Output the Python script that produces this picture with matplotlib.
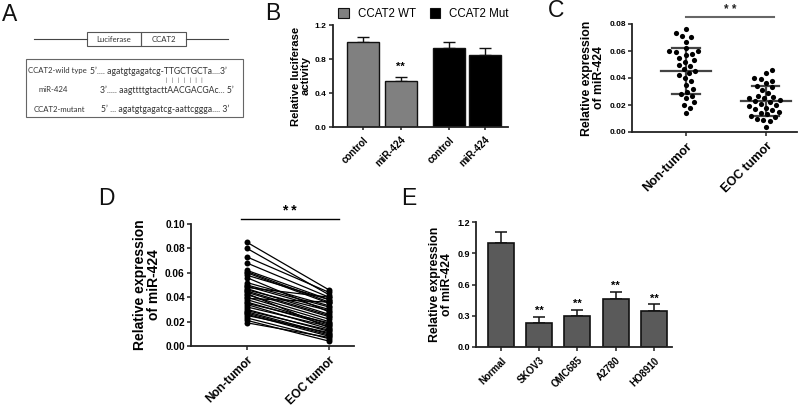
import numpy as np
import matplotlib
matplotlib.use("Agg")
import matplotlib.pyplot as plt
from matplotlib.patches import Rectangle

plt.rcParams['font.family'] = ['Liberation Sans', 'DejaVu Sans']

# ---------------- data ----------------
# Panel B
b_labels = ["control", "miR-424", "control", "miR-424"]
b_values = [1.00, 0.54, 0.93, 0.85]
b_errors = [0.06, 0.05, 0.07, 0.08]
b_groups = ["CCAT2 WT", "CCAT2 WT", "CCAT2 Mut", "CCAT2 Mut"]
b_yticks = [0.0, 0.4, 0.8, 1.2]

# Panel C
c_categories = ["Non-tumor", "EOC tumor"]
c_nontumor = [0.076, 0.073, 0.071, 0.070, 0.067, 0.062, 0.060, 0.060, 0.059, 0.058,
              0.057, 0.055, 0.053, 0.052, 0.050, 0.049, 0.047, 0.045, 0.044, 0.042,
              0.040, 0.038, 0.035, 0.032, 0.030, 0.028, 0.027, 0.025, 0.022, 0.020,
              0.018, 0.014]
c_eoc = [0.046, 0.044, 0.040, 0.039, 0.038, 0.036, 0.034, 0.033, 0.031, 0.029,
         0.027, 0.026, 0.025, 0.025, 0.024, 0.023, 0.022, 0.021, 0.020, 0.019,
         0.018, 0.017, 0.016, 0.015, 0.014, 0.013, 0.012, 0.011, 0.010, 0.009,
         0.008, 0.004]
c_means = [0.045, 0.023]
c_sds = [0.017, 0.011]
c_yticks = [0.00, 0.02, 0.04, 0.06, 0.08]

# Panel D (paired)
d_categories = ["Non-tumor", "EOC tumor"]
d_nontumor = [0.085, 0.080, 0.073, 0.068, 0.062, 0.061, 0.060, 0.058, 0.056, 0.052,
              0.050, 0.049, 0.048, 0.047, 0.046, 0.045, 0.044, 0.043, 0.042, 0.040,
              0.039, 0.038, 0.036, 0.035, 0.034, 0.032, 0.030, 0.029, 0.028, 0.027,
              0.026, 0.025, 0.023, 0.021, 0.019]
d_eoc = [0.046, 0.042, 0.044, 0.040, 0.038, 0.036, 0.035, 0.038, 0.028, 0.033,
         0.032, 0.030, 0.040, 0.026, 0.029, 0.025, 0.024, 0.015, 0.022, 0.020,
         0.036, 0.018, 0.017, 0.019, 0.014, 0.016, 0.012, 0.013, 0.010, 0.009,
         0.008, 0.011, 0.006, 0.004, 0.007]
d_yticks = [0.00, 0.02, 0.04, 0.06, 0.08, 0.10]

# Panel E
e_labels = ["Normal", "SKOV3", "OMC685", "A2780", "HO8910"]
e_values = [1.00, 0.23, 0.30, 0.46, 0.35]
e_errors = [0.10, 0.06, 0.06, 0.07, 0.06]
e_sig = ["", "**", "**", "**", "**"]
e_yticks = [0.0, 0.3, 0.6, 0.9, 1.2]

W, H = 800, 407
fig = plt.figure(figsize=(W / 100, H / 100), dpi=100)

def px_axes(l, t, r, b):
    return fig.add_axes([l / W, 1 - b / H, (r - l) / W, (b - t) / H])

def style(ax, fs_y, fs_x, xticklen=3):
    for s in ["top", "right"]:
        ax.spines[s].set_visible(False)
    for s in ["left", "bottom"]:
        ax.spines[s].set_linewidth(1.3)
        ax.spines[s].set_color("#222222")
    ax.tick_params(axis="y", direction="out", length=3, width=1.1,
                   color="#222222", labelsize=fs_y, pad=1.5)
    ax.tick_params(axis="x", direction="out", length=xticklen, width=1.1,
                   color="#222222", labelsize=fs_x, pad=3)
    for lab in ax.get_yticklabels() + ax.get_xticklabels():
        lab.set_fontweight("bold")

def beeswarm(vals, d_px, px_per_x, px_per_y):
    order = np.argsort(vals)
    xs = np.zeros(len(vals))
    placed = []
    for i in order:
        y = vals[i] * px_per_y
        cands = [0.0]
        for (px, py) in placed:
            dy = abs(py - y)
            if dy < d_px:
                dx = np.sqrt(d_px ** 2 - dy ** 2)
                cands += [px + dx, px - dx]
        cands.sort(key=abs)
        for c in cands:
            ok = all((c - px) ** 2 + (y - py) ** 2 >= d_px ** 2 - 1e-6 for (px, py) in placed)
            if ok:
                break
        placed.append((c, y))
        xs[i] = c / px_per_x
    return xs

def rot_labels(ax, labels):
    ax.set_xticklabels(labels, rotation=45, ha="right", rotation_mode="anchor")

# ---------------- overlay (panel A, letters) ----------------
ov = fig.add_axes([0, 0, 1, 1])
ov.set_xlim(0, W)
ov.set_ylim(H, 0)
ov.axis("off")

for letter, x, y in [("A", 2, 3), ("B", 265, 2), ("C", 548, -1), ("D", 98, 187), ("E", 401, 187)]:
    ov.text(x, y, letter, fontsize=16.5, va="top", ha="left", color="#111111")

fa = ["Lato", "DejaVu Sans"]
tc = "#333333"
fsl = 5.6
fss = 6.2
ov.plot([34, 87], [39, 39], color="#444444", lw=0.8)
ov.plot([186, 228], [39, 39], color="#444444", lw=0.8)
ov.add_patch(Rectangle((87, 32), 54, 14, fill=False, ec="#555555", lw=0.8))
ov.add_patch(Rectangle((141, 32), 45, 14, fill=False, ec="#555555", lw=0.8))
ov.text(114, 39.5, "Luciferase", fontsize=fsl, ha="center", va="center", family=fa, color=tc)
ov.text(163.5, 39.5, "CCAT2", fontsize=fsl, ha="center", va="center", family=fa, color=tc)
ov.add_patch(Rectangle((26, 59), 217, 58, fill=False, ec="#666666", lw=0.8))
ov.text(28, 71, "CCAT2-wild type", fontsize=fsl, ha="left", va="center", family=fa, color=tc)
ov.text(89.5, 71, "5\u2019.... agatgtgagatcg-TTGCTGCTa....3\u2019", fontsize=fss, ha="left",
        va="center", family=fa, color=tc)
ov.text(184.5, 80, "|   |   |   |   |   |   |", fontsize=4.3, ha="center", va="center",
        family=fa, color=tc)
ov.text(53, 90, "miR-424", fontsize=fsl, ha="center", va="center", family=fa, color=tc)
ov.text(100, 90, "3\u2019..... aagttttgtacttAACGACGAc... 5\u2019", fontsize=fss, ha="left",
        va="center", family=fa, color=tc)
ov.text(34, 109, "CCAT2-mutant", fontsize=fsl, ha="left", va="center", family=fa, color=tc)
ov.text(101, 109, "5\u2019 ... agatgtgagatcg-aattcggga.... 3\u2019", fontsize=fss, ha="left",
        va="center", family=fa, color=tc)

# ---------------- Panel B ----------------
axb = px_axes(333, 25, 508, 127)
bx = [0, 1, 2.28, 3.24]
bcolors = {"CCAT2 WT": "#808080", "CCAT2 Mut": "#000000"}
for x, v, e, g in zip(bx, b_values, b_errors, b_groups):
    axb.bar(x, v, width=0.84, color=bcolors[g], edgecolor="#111111", lw=1.0, zorder=2)
    axb.errorbar(x, v, yerr=[[0], [e]], fmt="none", ecolor="#111111", elinewidth=1.0,
                 capsize=4.5, capthick=1.0, zorder=1)
axb.text(bx[1], b_values[1] + b_errors[1] + 0.06, "**", ha="center", va="bottom",
         fontsize=8, fontweight="bold")
axb.set_xlim(-0.8, 3.85)
axb.set_ylim(0, 1.2)
axb.set_yticks(b_yticks)
axb.set_yticklabels([f"{t:.1f}" for t in b_yticks])
axb.set_xticks(bx)
rot_labels(axb, b_labels)
style(axb, 6, 7, xticklen=2.5)
axb.set_ylabel("Relative luciferase\nactivity", fontsize=8.1, fontweight="bold",
               linespacing=1.0, labelpad=3)
handles = [Rectangle((0, 0), 1, 1, fc=bcolors[k], ec="#111111", lw=0.8) for k in ["CCAT2 WT", "CCAT2 Mut"]]
axb.legend(handles, ["CCAT2 WT", "CCAT2 Mut"], ncol=2, loc="lower left",
           bbox_to_anchor=(0.03, 1.05), frameon=False, fontsize=8.3, handlelength=0.9,
           handleheight=0.9, handletextpad=0.8, columnspacing=1.2, borderaxespad=0,
           borderpad=0)

# ---------------- Panel C ----------------
axc = px_axes(632, 24, 797, 132)
c_pxx = 80.0
c_pxy = 108 / 0.08
for i, vals in enumerate([c_nontumor, c_eoc]):
    vals = np.array(vals)
    xs = beeswarm(vals, 6.6, c_pxx, c_pxy)
    axc.scatter(i + xs, vals, s=14, color="black", zorder=3, lw=0)
    m, s = c_means[i], c_sds[i]
    axc.plot([i - 0.31, i + 0.31], [m, m], color="#444444", lw=1.6, zorder=2)
    axc.plot([i, i], [m - s, m + s], color="#444444", lw=1.6, zorder=2)
    for yy in (m - s, m + s):
        axc.plot([i - 0.17, i + 0.17], [yy, yy], color="#444444", lw=1.6, zorder=2)
axc.plot([0, 1.1], [0.0852, 0.0852], color="#666666", lw=1.5, clip_on=False)
axc.text(0.55, 0.0862, "* *", ha="center", va="bottom", fontsize=8.5, fontweight="bold",
         color="#222222")
axc.set_xlim(-0.675, 1.39)
axc.set_ylim(0, 0.08)
axc.set_yticks(c_yticks)
axc.set_yticklabels([f"{t:.2f}" for t in c_yticks])
axc.set_xticks([0, 1])
rot_labels(axc, c_categories)
style(axc, 6, 9)
axc.set_ylabel("Relative expression\nof miR-424", fontsize=8.8, fontweight="bold",
               linespacing=1.0, labelpad=3)

# ---------------- Panel D ----------------
axd = px_axes(191, 224, 354, 346)
for a, b in zip(d_nontumor, d_eoc):
    axd.plot([0, 1], [a, b], color="black", lw=0.9, marker="o", ms=4.3,
             markeredgewidth=0, zorder=2, clip_on=False)
axd.plot([-0.073, 1.12], [0.1041, 0.1041], color="black", lw=1.0, clip_on=False)
axd.text(0.52, 0.1052, "* *", ha="center", va="bottom", fontsize=10, fontweight="bold")
axd.set_xlim(-0.683, 1.305)
axd.set_ylim(0, 0.10)
axd.set_yticks(d_yticks)
axd.set_yticklabels([f"{t:.2f}" for t in d_yticks])
axd.set_xticks([0, 1])
rot_labels(axd, d_categories)
style(axd, 7.3, 8.6)
axd.set_ylabel("Relative expression\nof miR-424", fontsize=10, fontweight="bold",
               linespacing=1.0, labelpad=3)

# ---------------- Panel E ----------------
axe = px_axes(476, 222, 672, 347)
ex = np.arange(len(e_labels))
axe.bar(ex, e_values, width=0.68, color="#5a5a5a", edgecolor="#111111", lw=1.2, zorder=2)
axe.errorbar(ex, e_values, yerr=[np.zeros(len(ex)), e_errors], fmt="none", ecolor="#111111",
             elinewidth=1.1, capsize=4, capthick=1.1, zorder=1)
for x, v, e, s in zip(ex, e_values, e_errors, e_sig):
    if s:
        axe.text(x, v + e + 0.005, s, ha="center", va="bottom", fontsize=8, fontweight="bold")
axe.set_xlim(-0.65, 4.47)
axe.set_ylim(0, 1.2)
axe.set_yticks(e_yticks)
axe.set_yticklabels([f"{t:.1f}" for t in e_yticks])
axe.set_xticks(ex)
rot_labels(axe, e_labels)
style(axe, 6.5, 7)
axe.set_ylabel("Relative expression\nof miR-424", fontsize=8.8, fontweight="bold",
               linespacing=1.0, labelpad=3)

fig.savefig("out.png", dpi=100)
